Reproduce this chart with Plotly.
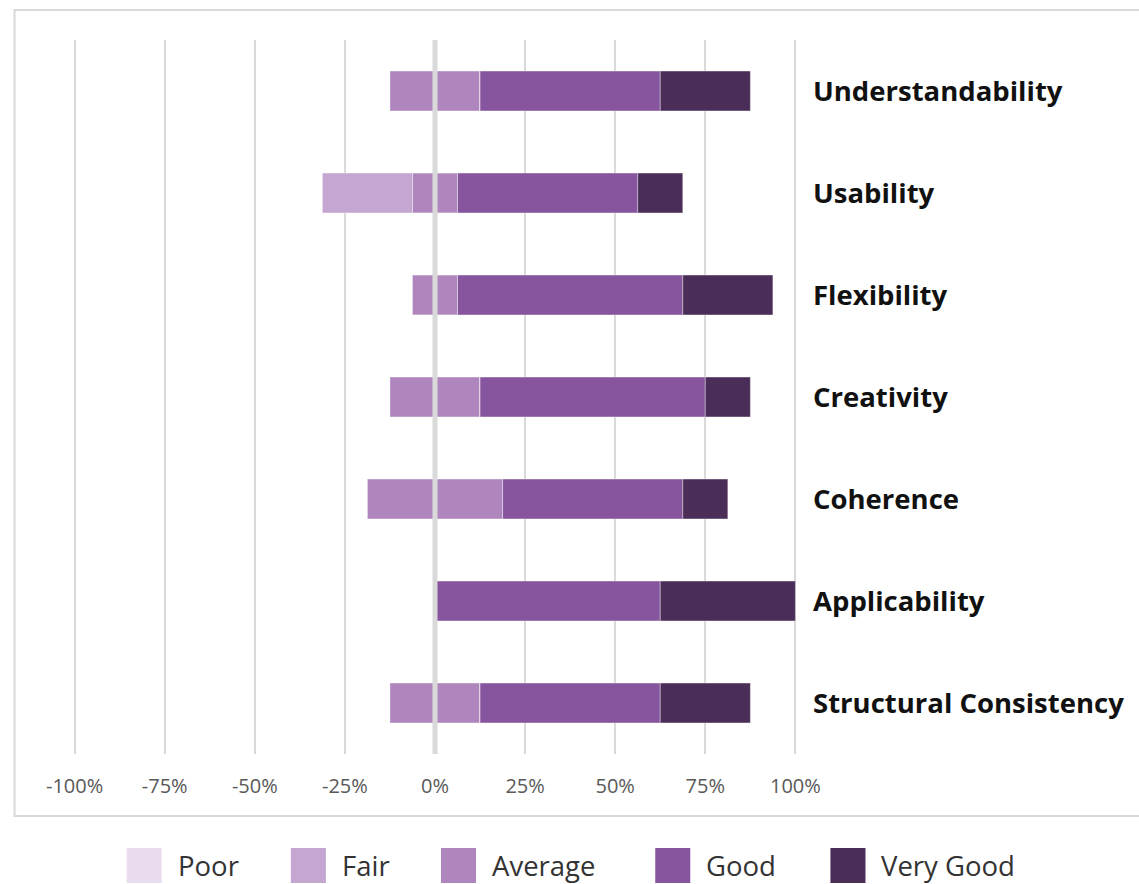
import plotly.graph_objects as go

categories = ["Understandability", "Usability", "Flexibility", "Creativity",
              "Coherence", "Applicability", "Structural Consistency"]
levels = ["Poor", "Fair", "Average", "Good", "Very Good"]
colors = ["#e8dcee", "#c4a6d0", "#ae86bd", "#87559d", "#4b2e58"]

poor = [0, 0, 0, 0, 0, 0, 0]
fair = [0, 25, 0, 0, 0, 0, 0]
average = [25, 12.5, 12.5, 25, 37.5, 0, 25]
good = [50, 50, 62.5, 62.5, 50, 62.5, 50]
very_good = [25, 12.5, 25, 12.5, 12.5, 37.5, 25]

tick_vals = [-100, -75, -50, -25, 0, 25, 50, 75, 100]
tick_text = ["-100%", "-75%", "-50%", "-25%", "0%", "25%", "50%", "75%", "100%"]

FONT = "Open Sans"
line = dict(color="rgba(255,255,255,0.35)", width=1)

fig = go.Figure()
# stacking order for relative mode: closest to zero first
fig.add_trace(go.Bar(y=categories, x=[-a / 2 for a in average], orientation="h",
                     marker=dict(color=colors[2], line=line), name="Average", showlegend=False))
fig.add_trace(go.Bar(y=categories, x=[a / 2 for a in average], orientation="h",
                     marker=dict(color=colors[2], line=line), name="Average", showlegend=False))
fig.add_trace(go.Bar(y=categories, x=[-v for v in fair], orientation="h",
                     marker=dict(color=colors[1], line=line), name="Fair", showlegend=False))
fig.add_trace(go.Bar(y=categories, x=[-v for v in poor], orientation="h",
                     marker=dict(color=colors[0], line=line), name="Poor", showlegend=False))
fig.add_trace(go.Bar(y=categories, x=good, orientation="h",
                     marker=dict(color=colors[3], line=line), name="Good", showlegend=False))
fig.add_trace(go.Bar(y=categories, x=very_good, orientation="h",
                     marker=dict(color=colors[4], line=line), name="Very Good", showlegend=False))

W, H = 1139, 884
L, R, T, B = 71.4, 340.4, 40, 130
pw = W - L - R
ph = H - T - B


def px_x(p):
    return (p - L) / pw


def px_y(p):
    return (H - B - p) / ph


shapes = [
    # zero line above bars
    dict(type="line", xref="x", yref="paper", x0=0, x1=0, y0=0, y1=1,
         line=dict(color="#d9d9d9", width=5), layer="above"),
    # outer border
    dict(type="rect", xref="paper", yref="paper",
         x0=px_x(15), x1=px_x(1150), y0=px_y(816), y1=px_y(10),
         line=dict(color="#d9d9d9", width=2), fillcolor="rgba(0,0,0,0)", layer="below"),
]
annotations = []
sq_left = [127, 291, 441, 655, 830]
for i, (name, col) in enumerate(zip(levels, colors)):
    x0 = sq_left[i]
    shapes.append(dict(type="rect", xref="paper", yref="paper",
                       x0=px_x(x0), x1=px_x(x0 + 35), y0=px_y(883), y1=px_y(848),
                       fillcolor=col, line=dict(width=0)))
    annotations.append(dict(xref="paper", yref="paper", x=px_x(x0 + 49), y=px_y(866),
                            xanchor="left", yanchor="middle", showarrow=False,
                            text=name, font=dict(family=FONT, size=27.5, color="#333333")))

fig.update_layout(
    barmode="relative",
    bargap=0.61,
    width=W, height=H,
    margin=dict(l=L, r=R, t=T, b=B),
    paper_bgcolor="white", plot_bgcolor="white",
    showlegend=False,
    shapes=shapes,
    annotations=annotations,
    xaxis=dict(range=[-101, 101], tickvals=tick_vals, ticktext=tick_text,
               showgrid=True, gridcolor="#d9d9d9", gridwidth=2, zeroline=False,
               showline=False, ticks="", ticklabelstandoff=18,
               tickfont=dict(family=FONT, size=20, color="#595959"), fixedrange=True),
    yaxis=dict(categoryorder="array", categoryarray=categories, autorange="reversed",
               side="right", showgrid=False, zeroline=False, showline=False, ticks="",
               ticklabelstandoff=13,
               tickfont=dict(family=FONT, size=27.5, color="#111111", weight="bold")),
)

fig.write_html("out.html")
